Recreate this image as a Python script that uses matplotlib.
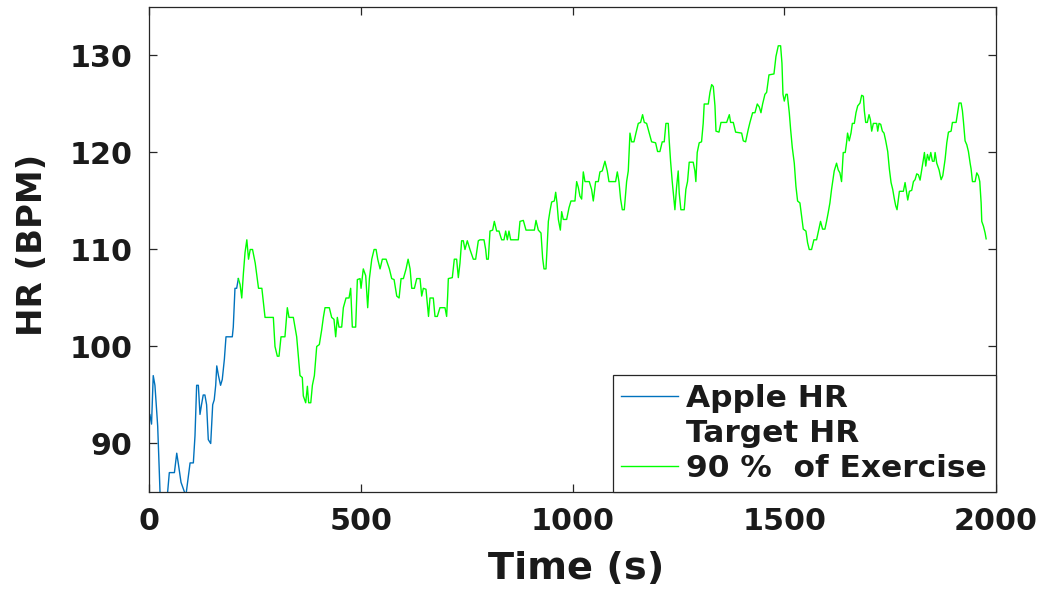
import matplotlib
matplotlib.use("Agg")
import matplotlib.pyplot as plt

# ---- data ----
apple_t = [0, 2, 6, 10, 14, 16.5, 20.5, 23.6, 26, 35, 44, 48, 60, 65.5, 69, 75.6, 87, 97,
           104.7, 108.6, 112.5, 116.5, 120.4, 124, 128, 132, 136, 140, 145.7, 150.4, 154,
           157.5, 160, 164, 169, 173, 178, 181.8, 196.7, 199, 203, 207, 211]
apple_hr = [93, 93, 92, 97, 96, 94.4, 91.8, 88, 85, 83, 85, 87, 87, 89, 88, 86, 84.6, 88,
            88, 90.8, 96, 96, 93, 94, 95, 95, 94, 90.4, 90, 94, 94.5,
            96, 98, 97, 96, 96.6, 98.7, 101, 101, 102, 106, 106, 107]

ex90_t = [211, 215, 219, 223, 226.8, 231, 235, 239, 244.5, 250.8, 258.6, 266.5, 274, 293.6,
          297.5, 303, 307, 311.7, 321, 326.6, 330.6, 340.8, 348.7, 352.6, 356.6, 362, 364.4,
          370, 374, 377, 382, 385.8, 390.5, 396, 402.2, 407.7, 411.7, 415.6, 425.8, 431.3,
          436.8, 440.8, 444.7, 448.6, 455, 458.9, 465.2, 472.3, 476.2, 480.1, 488, 492, 498.3,
          500.7, 506, 511.7, 516.4, 520.4, 526, 531.5, 536.2, 540.1, 545.6, 551, 559.8, 567.6,
          573.1, 578.7, 585, 590.5, 595.2, 600.7, 607, 611.8, 616.5, 620.4, 626.7, 632.2, 640,
          643.9, 647.8, 654, 660, 663.5, 671.3, 675.3, 680.8, 687, 698.9, 702.8, 705.2, 706.8,
          716.2, 720.9, 726.4, 730.4, 734.3, 738.2, 742.2, 746.1, 751.6, 757.9, 765.8, 771.3,
          777.6, 781.5, 791, 795, 797.3, 801.2, 805.2, 811.5, 815.4, 820.9, 826.4, 832.7, 838.2,
          842.2, 846.1, 850, 854, 872, 876, 883.9, 890.2, 910, 913.8, 919.3, 925.6, 929.5,
          932.7, 937.4, 939.8, 943, 946.9, 950.8, 957.1, 960.3, 963.4, 966.6, 971.3,
          974.4, 978.3, 986.2, 991.7, 996.4, 1005.8, 1009.8, 1013.7, 1017.6, 1021.6, 1025.5,
          1029.4, 1039.6, 1045.1, 1049.1, 1054.6, 1060.9, 1064.8, 1070.3, 1076.6, 1082.1,
          1086.1, 1101.8, 1105.8, 1109.7, 1113.6, 1117.6, 1122.3, 1127.8, 1131.7, 1135.7,
          1139.6, 1145.1, 1149.8, 1155.3, 1160.8, 1165.5, 1169.5, 1175, 1181.3, 1186.8, 1196.2,
          1200.9, 1206.4, 1211.9, 1216.6, 1220.6, 1226.1, 1228.4, 1231.6, 1235.5, 1239.4,
          1241.8, 1245.7, 1249.6, 1252, 1255.9, 1263.8, 1267.7, 1271.6, 1275.6, 1285, 1289,
          1291.3, 1294.5, 1299.2, 1304.7,
          1308.6, 1311, 1320.7, 1324.6, 1328.6, 1332.5, 1336.4, 1338.8, 1345.9, 1350.6, 1364,
          1370.3, 1373.4, 1379.7, 1385.2, 1399.4, 1403.3, 1408.8, 1415.1, 1419, 1425.3, 1430.8,
          1436.3, 1441, 1445, 1448.9, 1454.4, 1458.4, 1463.9, 1475.7, 1480.4, 1485.9, 1491.4,
          1494.6, 1497, 1500.1, 1504, 1507.2, 1511.9, 1515, 1519, 1523.7, 1527.6, 1531.5, 1537,
          1541, 1544.9, 1551.2, 1555.1, 1559, 1564.5, 1570, 1576.3, 1581.8, 1585.7, 1590.5,
          1596, 1599.9, 1603.8, 1607.8, 1611.7, 1618, 1623.5, 1627.5, 1631.4, 1635.3, 1639.3,
          1644, 1647.1, 1649.5, 1653.4,
          1657.6, 1660.8, 1665.5, 1669.4, 1673.4, 1678.9, 1682.8, 1686.8, 1689.1, 1692.3,
          1696.2, 1700.2, 1703.3, 1706.5, 1710.4, 1718.3, 1720.7, 1723.8, 1727.8, 1731.7,
          1735.6, 1739.6, 1744.3, 1748.2, 1752.2, 1756.1, 1760, 1763.2, 1766.3, 1769.5, 1771.9,
          1781.3, 1785.3, 1789.2, 1791.6, 1795.5, 1801, 1805, 1808.9, 1812.8, 1816.8, 1820.7,
          1824.6, 1828.6, 1831, 1834.1, 1838.1, 1842, 1846, 1849.9, 1853.8, 1856.2, 1860.1,
          1865.6, 1870.4, 1874.3, 1879.8, 1883.8, 1887.7, 1894, 1897.1, 1905.8, 1909.7, 1912.9,
          1917.6, 1920.7, 1923.1, 1927, 1931, 1934.9, 1938.9, 1941.2, 1944.4, 1950.7, 1954.6,
          1958.5, 1961.7, 1964.9, 1966.4, 1970.4, 1974.3, 1976.7]
ex90_hr = [107, 106.4, 105, 107.6, 109.7, 111, 109, 110, 110, 108.6, 106, 106, 103, 103,
           100, 99, 99, 101, 101, 104, 103, 103, 101, 99, 97, 96.8, 94.9,
           94.2, 95.9, 94.2, 94.2, 96, 97, 100, 100.2, 101.7, 103, 104, 104, 103,
           102.8, 101, 103, 102, 102, 104, 105, 105, 106, 102, 102, 106.9, 107,
           106, 108, 107.3, 104, 107, 109, 110, 110, 109, 108, 109, 109, 108,
           107, 106.9, 105.2, 105, 107, 107, 108, 109, 108, 106, 106, 107, 107,
           105.2, 106, 105.9, 103.1, 105, 105, 103.1, 103.1, 104, 104, 103.1, 105.2, 107,
           107.1, 109, 109, 107.1, 108.6, 110.9, 110.9, 110, 110.9, 110, 109, 109,
           110.9, 111, 111, 110, 109, 109, 111.9, 112, 112.9, 111.9, 111.9, 111, 111,
           111.9, 111, 111.9, 111, 111, 112.9, 113, 112, 112, 113, 112, 111.7, 109.1,
           108, 108, 110, 112.9, 114, 114.9, 115, 115.9, 114.8, 113.1, 112,
           113.9, 113.1, 113.1, 114.3, 115, 115, 117, 116.4, 115.5, 115.2, 118,
           117, 117, 116.2, 115, 117, 117, 118, 118.1, 119.1, 118.1,
           117, 117, 118, 117, 115.2, 114.1, 114.1, 117, 118.1, 122,
           121.1, 121.1, 122, 123, 123.1, 123.9, 123.1, 123, 122, 121.1, 121,
           120.1, 120.1, 121.1, 121.1, 123, 123, 121.2, 119.1, 117, 115.2,
           114.1, 116.4, 118.1, 115.8, 114.1, 114.1, 116.2, 117, 119, 119, 118.1,
           117, 120, 121, 121.1,
           123, 125, 125, 126.2, 127, 126.8, 124.8, 122.2, 122.1, 123.1, 123.1,
           123.9, 123.1, 123.1, 122.1, 122, 121.2, 121.1, 122.4, 123.1, 124.1, 124.1,
           125, 124.7, 124.1, 125, 126, 126.2, 128, 128.1, 129.9, 131, 131,
           129.2, 126, 125.3, 126, 126, 124.1, 122.4, 120.5, 118.9, 116.5, 115, 114.8,
           113.4, 112.1, 111.9, 110.7, 110, 110, 111, 111, 112.1, 112.9, 112.1,
           112.1, 112.9, 113.8, 114.8, 116.2, 118.1, 118.9, 118.2, 117.9, 117, 120,
           120, 121, 122, 121.2,
           122, 123, 123, 124.1, 124.8, 125.1, 125.9, 125.8, 124.3, 123.1,
           123.1, 123.9, 123.4, 122.2, 123, 123, 122.2, 123, 122.9, 122.2,
           122, 121.2, 120.1, 118.3, 116.9, 116.2, 115.2, 114.5, 114.1, 115.2, 116,
           116, 116.9, 115.8, 115.1, 116, 116.1, 117, 117.2, 117.8, 117.7, 117.15,
           118.2, 119.3, 120, 118.6, 119.8, 119.2, 120, 119.1, 119.1, 120, 118.9,
           118.2, 117.2, 117.6, 119.3, 121, 122.1, 122.2, 123.1, 123.1, 124.2, 125.1,
           125.1, 124.3, 123.2, 121.2, 120.8, 120.1, 118.9, 118.3, 117, 117, 117.9,
           117.6, 117, 114.8, 112.9, 112.4, 111.7, 111.1]

legend_labels = ["Apple HR", "Target HR", "90 %  of Exercise"]
x_ticks = [0, 500, 1000, 1500, 2000]
y_ticks = [90, 100, 110, 120, 130]

# ---- figure ----
plt.rcParams["font.family"] = ["DejaVu Sans"]
plt.rcParams["font.weight"] = "bold"
dark = "#262626"
txtc = "#1a1a1a"

fig = plt.figure(figsize=(10.5, 5.92), dpi=100)
ax = fig.add_axes([149 / 1050, 1 - 492 / 592, (996 - 149) / 1050, (492 - 7) / 592])

ax.plot(apple_t, apple_hr, color="#0072BD", lw=1.0, label=legend_labels[0])
ax.plot([], [], color="none", lw=1.0, label=legend_labels[1])
ax.plot(ex90_t, ex90_hr, color="#00FF00", lw=1.0, label=legend_labels[2])

ax.set_xlim(0, 2000)
ax.set_ylim(85, 135)
ax.set_xticks(x_ticks)
ax.set_yticks(y_ticks)

ax.tick_params(axis="both", which="both", direction="in", top=True, right=True,
               length=5.8, width=0.9, colors=dark, labelsize=21.7)
ax.tick_params(axis="x", pad=11)
ax.tick_params(axis="y", pad=12)
for lab in ax.get_xticklabels() + ax.get_yticklabels():
    lab.set_color(txtc)
    lab.set_fontweight("bold")
for sp in ax.spines.values():
    sp.set_color(dark)
    sp.set_linewidth(0.9)

ax.set_xlabel("Time (s)", fontsize=27.5, color=txtc, fontweight="bold")
ax.set_ylabel("HR (BPM)", fontsize=24.5, color=txtc, fontweight="bold")
ax.xaxis.set_label_coords(0.504, -0.122)
ax.yaxis.set_label_coords(-0.118, 0.51)

leg = ax.legend(loc="lower right", prop={"size": 22.5, "weight": "bold"}, frameon=True,
                fancybox=False, framealpha=1, edgecolor=dark, borderaxespad=0,
                borderpad=0.28, labelspacing=0.2, handlelength=1.82, handletextpad=0.26)
leg.get_frame().set_linewidth(0.9)
for txt in leg.get_texts():
    txt.set_color(txtc)

fig.savefig("out.png", dpi=100)
